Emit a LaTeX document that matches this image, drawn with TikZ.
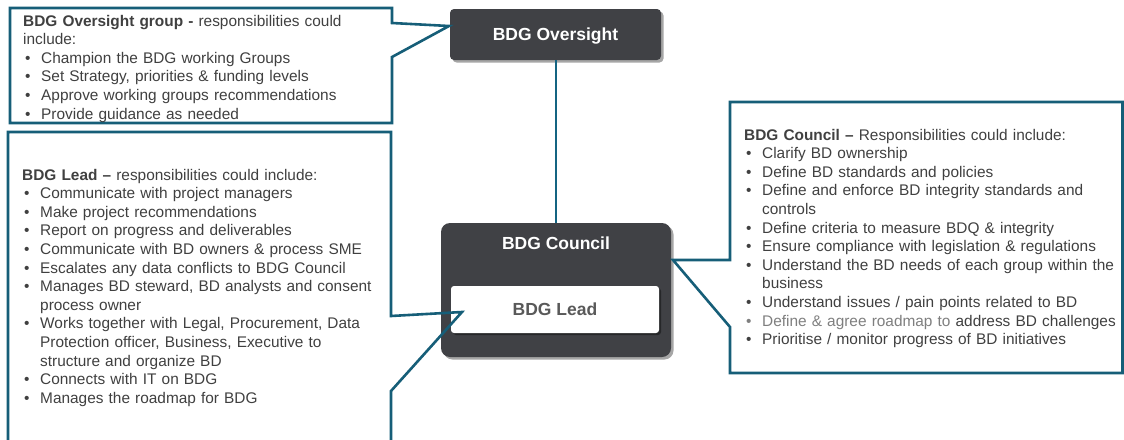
\documentclass[tikz,border=0pt]{standalone}
\usepackage{fontspec}
\setmainfont{Liberation Sans}
\usetikzlibrary{shadows}
\definecolor{callc}{RGB}{22,94,120}
\definecolor{connc}{RGB}{20,100,130}
\definecolor{darkbox}{RGB}{64,65,69}
\definecolor{bodytext}{RGB}{64,64,64}
\definecolor{leadtext}{RGB}{89,89,89}
\definecolor{lighttext}{RGB}{127,127,127}
\newcommand{\bul}[1]{\par\noindent\hangindent=18pt\hangafter=1\hspace*{2pt}\makebox[16pt][l]{\textbullet}#1}
\begin{document}
\begin{tikzpicture}[x=1pt,y=-1pt,
  darknode/.style={draw=none, fill=darkbox, rectangle, inner sep=0pt,
    drop shadow={shadow xshift=2.5pt, shadow yshift=-2.5pt, opacity=0.35, fill=black},
    text=white, text depth=0pt, font=\fontsize{17.5}{20}\selectfont\bfseries},
  leadnode/.style={draw=none, fill=white, rectangle, rounded corners=3pt, inner sep=0pt,
    drop shadow={shadow xshift=2pt, shadow yshift=-2pt, opacity=0.4, fill=black},
    text=leadtext, font=\fontsize{17.5}{20}\selectfont\bfseries},
  titletxt/.style={text=white, font=\fontsize{17.5}{20}\selectfont\bfseries, inner sep=0pt},
  txt/.style={anchor=base west, inner sep=0pt, align=left, text=bodytext,
    font=\fontsize{15.4}{18.6}\selectfont},
  callout/.style={draw=callc, line width=2.6pt, line join=miter},
  conn/.style={draw=connc, line width=2pt}
]
\useasboundingbox (0,0) rectangle (1124,439);
\fill[white] (0,0) rectangle (1124,439);

% central nodes
\node[darknode, rounded corners=4pt, minimum width=211pt, minimum height=51pt] (oversight) at (555.5,34.5) {BDG Oversight};
\node[darknode, rounded corners=9pt, minimum width=230pt, minimum height=134pt] (council) at (556,290) {};
\node[titletxt] (counciltitle) at (556,243.5) {BDG Council};
\node[leadnode, minimum width=208pt, minimum height=47pt] (lead) at (555,309.5) {BDG Lead};

\draw[conn] (oversight.south) -- (oversight.south |- council.north);

% callout tips
\coordinate (tipO) at (449,26);
\coordinate (tipL) at (462,312);
\coordinate (tipC) at (673,260);

% Oversight callout
\draw[callout] (10,8) -- (392,8) -- (392,23) -- (tipO) -- (392,57) -- (392,123) -- (10,123) -- cycle;
% Lead callout
\draw[callout] (8,445) -- (8,132) -- (391,132) -- (391,316) -- (tipL) -- (391,391) -- (391,445);
% Council callout
\draw[callout] (730,260) -- (730,102) -- (1122.5,102) -- (1122.5,373) -- (730,373) -- (730,327) -- (tipC) -- cycle;

% texts
\node[txt, text width=372pt] (otext) at (23,26) {%
{\bfseries BDG Oversight group -} responsibilities could\newline include:
\bul{Champion the BDG working Groups}
\bul{Set Strategy, priorities \&  funding levels}
\bul{Approve working groups recommendations}
\bul{Provide guidance as needed}};

\node[txt, text width=372pt] (ltext) at (22,180) {%
{\bfseries BDG Lead –} responsibilities could  include:
\bul{Communicate with project managers}
\bul{Make project recommendations}
\bul{Report on progress and deliverables}
\bul{Communicate with BD owners \& process SME}
\bul{Escalates any data conflicts to BDG Council}
\bul{Manages BD steward, BD analysts and consent\newline process owner}
\bul{Works together with  Legal, Procurement, Data\newline Protection officer, Business, Executive to\newline structure and organize BD}
\bul{Connects with IT on BDG}
\bul{Manages the roadmap for BDG}};

\node[txt, text width=378pt] (ctext) at (744,140) {%
{\bfseries BDG Council –} Responsibilities could include:
\bul{Clarify BD ownership}
\bul{Define BD standards and policies}
\bul{Define and enforce BD integrity standards and\newline controls}
\bul{Define criteria to measure BDQ \& integrity}
\bul{Ensure compliance with legislation \& regulations}
\bul{Understand the BD needs of each group within the\newline business}
\bul{Understand issues / pain points related to BD}
\par\noindent\hangindent=18pt\hangafter=1\hspace*{2pt}\makebox[16pt][l]{\color{lighttext}\textbullet}\textcolor{lighttext}{Define \& agree roadmap to} address BD challenges
\bul{Prioritise / monitor progress of BD initiatives}};
\end{tikzpicture}
\end{document}
